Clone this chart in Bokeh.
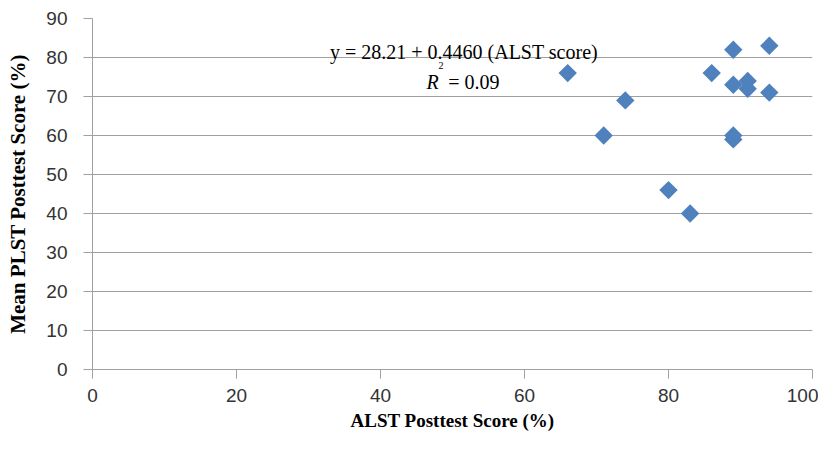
import numpy as np
from bokeh.plotting import figure
from bokeh.models import Label, FixedTicker, Range1d
from bokeh.embed import file_html
from bokeh.resources import INLINE

# Data
alst_scores = [66, 71, 74, 80, 83, 86, 89, 89, 89, 89, 91, 91, 94, 94]
plst_scores = [76, 60, 69, 46, 40, 76, 82, 73, 60, 59, 74, 72, 83, 71]
x_ticks = [0, 20, 40, 60, 80, 100]
y_ticks = [0, 10, 20, 30, 40, 50, 60, 70, 80, 90]
equation_text = "y = 28.21 + 0.4460 (ALST score)"
r2_symbol = "R"
r2_exponent = "2"
r2_value = "= 0.09"

p = figure(width=818, height=439, output_backend="svg", toolbar_location=None,
           x_range=Range1d(0, 100), y_range=Range1d(0, 90),
           min_border_left=92, min_border_right=6, min_border_top=18, min_border_bottom=70)
p.outline_line_color = None
p.background_fill_color = "white"
p.border_fill_color = "white"

axis_gray = "#a0a0a0"
tick_font = "Liberation Sans"
serif = "Liberation Serif"

# x axis
xa = p.xaxis[0]
xa.ticker = FixedTicker(ticks=x_ticks)
xa.minor_tick_line_color = None
xa.major_tick_in = 0
xa.major_tick_out = 9
xa.axis_line_color = axis_gray
xa.major_tick_line_color = axis_gray
xa.major_label_text_font = tick_font
xa.major_label_text_font_size = "19px"
xa.major_label_text_color = "#333333"
xa.major_label_standoff = 10
xa.axis_label = "ALST Posttest Score (%)"
xa.axis_label_text_font = serif
xa.axis_label_text_font_style = "bold"
xa.axis_label_text_font_size = "19px"
xa.axis_label_text_color = "black"
xa.axis_label_standoff = 5

# y axis
ya = p.yaxis[0]
ya.ticker = FixedTicker(ticks=y_ticks)
ya.minor_tick_line_color = None
ya.major_tick_in = 0
ya.major_tick_out = 9
ya.axis_line_color = axis_gray
ya.major_tick_line_color = axis_gray
ya.major_label_text_font = tick_font
ya.major_label_text_font_size = "19px"
ya.major_label_text_color = "#333333"
ya.major_label_standoff = 16
ya.axis_label = "Mean PLST Posttest Score (%)"
ya.axis_label_text_font = serif
ya.axis_label_text_font_style = "bold"
ya.axis_label_text_font_size = "21px"
ya.axis_label_text_color = "black"
ya.axis_label_standoff = 13

p.xgrid.grid_line_color = None
p.ygrid.ticker = FixedTicker(ticks=y_ticks)
p.ygrid.grid_line_color = axis_gray
p.ygrid.grid_line_width = 1

p.scatter(alst_scores, plst_scores, marker="square", size=13, angle=np.pi / 4,
          fill_color="#4F81BD", line_color=None)

p.add_layout(Label(x=51.6, y=81.3, text=equation_text, text_font=serif,
                   text_font_size="20px", text_align="center",
                   text_baseline="alphabetic", text_color="black"))
p.add_layout(Label(x=46.4, y=73.6, text=r2_symbol, text_font=serif,
                   text_font_style="italic", text_font_size="20px",
                   text_align="left", text_baseline="alphabetic", text_color="black"))
p.add_layout(Label(x=48.4, y=78.0, text=r2_exponent, text_font=serif,
                   text_font_size="10px", text_align="center",
                   text_baseline="alphabetic", text_color="black"))
p.add_layout(Label(x=49.4, y=73.6, text=r2_value, text_font=serif,
                   text_font_size="20px", text_align="left",
                   text_baseline="alphabetic", text_color="black"))

open("out.html", "w").write(file_html(p, INLINE))
